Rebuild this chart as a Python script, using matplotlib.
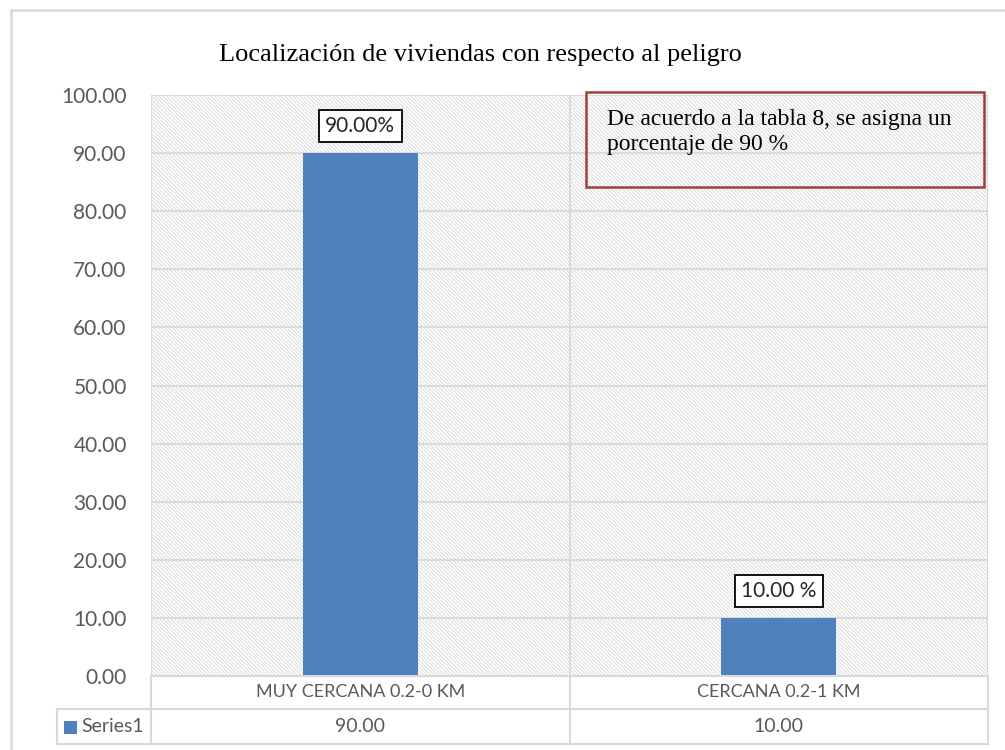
import matplotlib
matplotlib.use("Agg")
import matplotlib.pyplot as plt
from matplotlib.patches import Rectangle
from matplotlib.lines import Line2D

categories = ["MUY CERCANA 0.2-0 KM", "CERCANA 0.2-1 KM"]
values = [90.00, 10.00]
bar_labels = ["90.00%", "10.00 %"]
series_name = "Series1"
yticks = [0, 10, 20, 30, 40, 50, 60, 70, 80, 90, 100]
title = "Localización de viviendas con respecto al peligro"
note = "De acuerdo a la tabla 8, se asigna un\nporcentaje de 90 %"

W, H = 1005, 750
plt.rcParams['hatch.linewidth'] = 0.6
plt.rcParams['hatch.color'] = '#D4D4D4'
fig = plt.figure(figsize=(W / 100, H / 100), dpi=100)

GRID = '#D9D9D9'
TXT = '#595959'
BAR = '#4F81BD'
SANS = ['Lato', 'DejaVu Sans']
SERIF = ['Liberation Serif', 'DejaVu Serif']

# plot area in pixels
L, R, T, B = 151, 988, 95, 676
ax = fig.add_axes([L / W, 1 - B / H, (R - L) / W, (B - T) / H])
ax.set_xlim(-0.5, len(categories) - 0.5)
ax.set_ylim(0, 100)
bg = Rectangle((0, 0), 1, 1, transform=ax.transAxes, facecolor='white',
               edgecolor='#D4D4D4', hatch='\\' * 9, linewidth=0, zorder=0)
ax.add_patch(bg)
for s in ax.spines.values():
    s.set_visible(False)
ax.set_yticks(yticks)
ax.set_yticklabels([f"{v:.2f}" for v in yticks], fontfamily=SANS, fontsize=15, color=TXT)
ax.tick_params(axis='y', length=0, pad=17.5)
ax.set_xticks([])
for v in yticks[1:]:
    ax.axhline(v, color=GRID, linewidth=1.3, zorder=1)
ax.axvline(0.5, color=GRID, linewidth=1.3, zorder=1)
ax.axvline(-0.5, color=GRID, linewidth=1.5, zorder=1)
ax.axvline(1.5, color=GRID, linewidth=1.5, zorder=1)

x = list(range(len(categories)))
ax.bar(x, values, width=0.275, color=BAR, zorder=3)
for xi, v, lab in zip(x, values, bar_labels):
    ax.annotate(lab, (xi, v), xytext=(0, 19.5), textcoords='offset points',
                ha='center', va='center', fontfamily=SANS, fontsize=15, color='#262626',
                bbox=dict(boxstyle='square,pad=0.3', facecolor='white', edgecolor='black', linewidth=1.3),
                zorder=5)

# overlay in pixel coordinates
ov = fig.add_axes([0, 0, 1, 1], facecolor='none')
ov.set_xlim(0, W)
ov.set_ylim(H, 0)
ov.axis('off')

def line(x0, y0, x1, y1, c=GRID, lw=1.5):
    ov.add_line(Line2D([x0, x1], [y0, y1], color=c, linewidth=lw))

# outer chart border
line(11, 10, 1005, 10, '#D9D9D9', 1.8)
line(11, 10, 11, 750, '#D9D9D9', 1.8)

# data table
line(L, B, R, B)
line(57, 709, R, 709)
line(57, 744, R, 744)
line(57, 709, 57, 744)
line(L, B, L, 744)
line((L + R) / 2, B, (L + R) / 2, 744)
line(R, B, R, 744)
cw = (R - L) / len(categories)
for i, (c, v) in enumerate(zip(categories, values)):
    cx = L + cw * (i + 0.5)
    ov.text(cx, 692, c, ha='center', va='center', fontfamily=SANS, fontsize=13, color=TXT)
    ov.text(cx, 727, f"{v:.2f}", ha='center', va='center', fontfamily=SANS, fontsize=14, color=TXT)
ov.add_patch(Rectangle((64, 721), 13, 13, facecolor=BAR, edgecolor='none'))
ov.text(81, 727, series_name, ha='left', va='center', fontfamily=SANS, fontsize=14, color=TXT)

# title
ov.text(480, 55, title, ha='center', va='center', fontfamily=SERIF, fontsize=19, color='black')

# note box
ov.add_patch(Rectangle((586, 92), 398, 95, facecolor='none', edgecolor='#A0403E', linewidth=1.8, zorder=6))
ov.text(607, 132, note, ha='left', va='center', fontfamily=SERIF, fontsize=17, color='black',
        linespacing=1.3, zorder=7)

fig.savefig('out.png', dpi=100)
